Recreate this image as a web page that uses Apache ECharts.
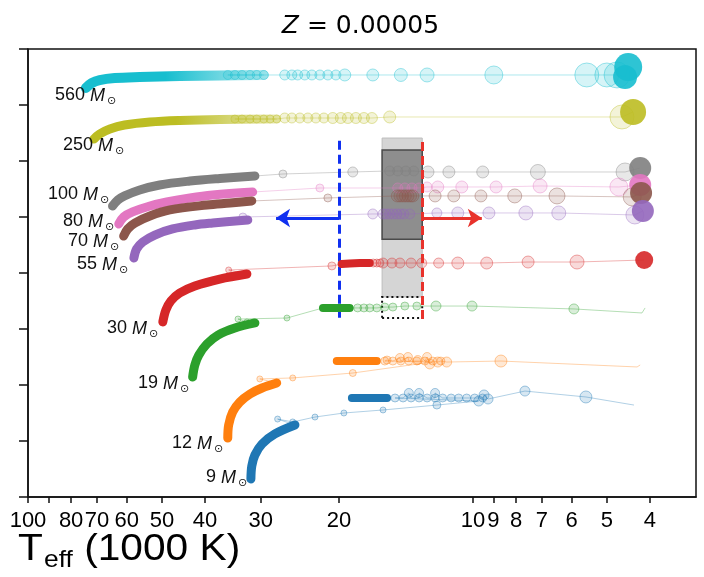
<!DOCTYPE html>
<html><head><meta charset="utf-8">
<script src="https://cdn.jsdelivr.net/npm/echarts@6/dist/echarts.min.js"></script>
<style>html,body{margin:0;padding:0;background:#fff}#c{width:704px;height:577px}</style>
</head><body><div id="c"></div>
<script>
// x = log10(Teff / K), y = log10(L / Lsun)
const masses = ['560','250','100','80','70','55','30','19','12','9'];
const colors = ['#17becf','#bcbd22','#7f7f7f','#e377c2','#8c564b','#9467bd','#d62728','#2ca02c','#ff7f0e','#1f77b4'];
const tickTeff  = [100,90,80,70,60,50,40,30,20,10,9,8,7,6,5,4];
const labelTeff = [100,80,70,60,50,40,30,20,10,9,8,7,6,5,4];

// main-sequence tracks [logTeff, logL]
const ms560 = [[4.870,7.152],[4.857,7.196],[4.839,7.223],[4.805,7.241],[4.749,7.250],[4.659,7.259],[4.569,7.263],[4.470,7.268]];
const ms250 = [[4.852,6.696],[4.839,6.741],[4.816,6.786],[4.783,6.821],[4.726,6.848],[4.659,6.862],[4.569,6.871],[4.441,6.875]];
const ms100 = [[4.810,6.098],[4.798,6.152],[4.783,6.188],[4.749,6.241],[4.704,6.286],[4.636,6.321],[4.569,6.344],[4.490,6.366]];
const ms80  = [[4.796,5.938],[4.785,6.000],[4.765,6.045],[4.726,6.098],[4.688,6.134],[4.636,6.170],[4.585,6.196],[4.495,6.223]];
const ms70  = [[4.785,5.830],[4.776,5.893],[4.760,5.946],[4.726,6.009],[4.681,6.063],[4.598,6.107],[4.546,6.125],[4.497,6.143]];
const ms55  = [[4.762,5.634],[4.756,5.714],[4.742,5.777],[4.715,5.839],[4.675,5.893],[4.625,5.929],[4.585,5.946],[4.506,5.973]];
const ms30  = [[4.697,5.063],[4.690,5.170],[4.679,5.250],[4.659,5.321],[4.625,5.384],[4.569,5.446],[4.508,5.491]];
const ms19  = [[4.630,4.571],[4.625,4.679],[4.616,4.768],[4.598,4.866],[4.573,4.946],[4.535,5.009],[4.490,5.054]];
const ms12  = [[4.551,4.027],[4.549,4.143],[4.540,4.259],[4.524,4.348],[4.501,4.420],[4.474,4.473],[4.441,4.518]];
const ms9   = [[4.499,3.661],[4.497,3.777],[4.490,3.875],[4.474,3.973],[4.445,4.063],[4.400,4.143]];

// dense core-He-burning bands [logTeff, logL]
const band30 = [[4.295,5.580],[4.277,5.585],[4.254,5.589],[4.232,5.589]];
const band19 = [[4.337,5.188],[4.310,5.188],[4.277,5.188]];
const band12 = [[4.306,4.714],[4.280,4.714],[4.250,4.714],[4.216,4.714]];
const band9  = [[4.272,4.384],[4.240,4.384],[4.210,4.384],[4.193,4.384]];

// post-MS models [logTeff, logL, r]  (r = 0: track point only)
const pts560 = [[4.551,7.268,4.5],[4.535,7.268,4.5],[4.519,7.268,4.5],[4.501,7.268,4.5],[4.486,7.268,4.5],[4.470,7.268,4.5],[4.423,7.268,5],[4.407,7.268,5],[4.394,7.268,5],[4.378,7.268,5],[4.362,7.268,5],[4.344,7.268,5],[4.326,7.268,5],[4.308,7.268,5],[4.288,7.268,6],[4.225,7.268,6],[4.162,7.268,6.5],[4.103,7.268,7],[3.953,7.268,9],[3.744,7.268,12],[3.699,7.268,12],[3.676,7.268,13]];
const pts250 = [[4.535,6.875,4],[4.519,6.875,4],[4.501,6.875,4],[4.486,6.875,4],[4.470,6.875,4],[4.456,6.875,4],[4.441,6.875,4],[4.423,6.884,5],[4.407,6.884,5],[4.389,6.884,5],[4.371,6.884,5],[4.353,6.884,5],[4.335,6.884,5],[4.315,6.884,5.5],[4.297,6.884,5.5],[4.281,6.884,5.5],[4.263,6.884,5.5],[4.245,6.884,5.5],[4.227,6.884,5.5],[4.187,6.893,6],[3.665,6.893,12]];
const pts100 = [[4.427,6.384,4],[4.270,6.402,5],[4.187,6.411,5],[4.169,6.411,5],[4.151,6.411,5],[4.133,6.411,5],[4.101,6.402,6],[4.054,6.402,6],[3.978,6.402,6],[3.854,6.402,7.5],[3.658,6.402,9]];
const pts80  = [[4.344,6.259,4],[4.169,6.259,5],[4.153,6.259,5],[4.137,6.259,5],[4.121,6.259,5],[4.103,6.268,5],[4.079,6.268,6],[4.025,6.268,6],[3.948,6.268,6],[3.849,6.277,7],[3.672,6.268,9]];
const pts70  = [[4.326,6.170,4],[4.170,6.188,6],[4.164,6.188,6],[4.158,6.188,6],[4.152,6.188,6],[4.146,6.188,6],[4.140,6.188,6],[4.135,6.188,6],[4.085,6.188,6],[4.043,6.188,6],[3.982,6.188,6],[3.906,6.188,7],[3.811,6.188,8],[3.642,6.179,9]];
const pts55  = [[4.517,6.000,4],[4.225,6.027,5],[4.202,6.027,5],[4.195,6.027,5],[4.187,6.027,5],[4.179,6.027,5],[4.171,6.027,5],[4.163,6.027,5],[4.155,6.027,5],[4.142,6.027,5],[4.081,6.036,5],[4.034,6.036,6],[3.964,6.036,6],[3.881,6.036,7],[3.807,6.036,7],[3.636,6.018,9]];
const pts30  = [[4.549,5.527,3],[4.317,5.563,4],[4.295,5.580,0],[4.224,5.589,4],[4.216,5.589,4],[4.209,5.589,4],[4.202,5.589,5],[4.182,5.589,5],[4.164,5.589,5],[4.139,5.589,5],[4.115,5.589,5],[4.077,5.589,5],[4.034,5.589,6],[3.969,5.589,6],[3.876,5.598,6],[3.766,5.598,7]];
const pts19  = [[4.508,5.063,3],[4.528,5.089,3],[4.418,5.098,3],[4.337,5.188,0],[4.259,5.188,4],[4.245,5.188,4],[4.232,5.188,4],[4.216,5.188,4],[4.198,5.196,4],[4.180,5.196,4],[4.153,5.205,4],[4.126,5.205,4],[4.083,5.205,5],[4.002,5.205,5],[3.773,5.179,5],[3.620,5.143,0],[3.613,5.188,0]];
const pts12  = [[4.479,4.554,3],[4.405,4.563,3],[4.270,4.607,3.5],[4.092,4.705,0],[4.198,4.714,4],[4.193,4.723,4],[4.180,4.714,4],[4.164,4.741,4.5],[4.162,4.714,4],[4.146,4.750,4.5],[4.144,4.714,4],[4.126,4.714,4],[4.124,4.723,4.5],[4.108,4.714,4],[4.103,4.750,4.5],[4.097,4.688,5],[4.090,4.714,4],[4.079,4.705,5],[4.072,4.714,4],[4.059,4.705,5],[3.937,4.714,6],[3.631,4.661,0],[3.624,4.679,0]];
const pts9   = [[4.439,4.196,3],[4.405,4.170,3],[4.355,4.214,3],[4.290,4.250,3],[4.202,4.277,3],[4.081,4.321,4],[3.987,4.357,5],[4.175,4.384,4],[4.157,4.384,4],[4.144,4.429,4.5],[4.139,4.384,4],[4.121,4.384,4],[4.121,4.429,4.5],[4.103,4.384,4],[4.085,4.384,4],[4.085,4.429,4.5],[4.068,4.384,4],[4.049,4.384,4],[4.032,4.384,4],[4.014,4.384,4],[3.996,4.384,4],[3.978,4.384,4],[3.975,4.411,5],[3.966,4.375,5],[3.883,4.446,5],[3.746,4.393,6],[3.638,4.321,0]];

// final (red supergiant) models [logTeff, logL, r]
const end560 = [[3.658,7.250,12],[3.651,7.339,14]];
const end250 = [[3.640,6.938,13]];
const end100 = [[3.624,6.438,11]];
const end80  = [[3.624,6.286,11]];
const end70  = [[3.622,6.214,11]];
const end55  = [[3.618,6.054,11]];
const end30  = [[3.615,5.616,9]];

// annotation values (Teff in 1000 K, logL)
const tHot = 20, tCool = 13, tBox = 16;
const arrowHotTo = 27.7, arrowCoolTo = 9.55, arrowL = 5.991;
const cutLineL = [5.10, 6.70];
const boxLight = [5.286, 6.705], boxDark = [5.801, 6.598], boxDotted = [5.098, 5.286];

const msList   = [ms560,ms250,ms100,ms80,ms70,ms55,ms30,ms19,ms12,ms9];
const bandList = [null,null,null,null,null,null,band30,band19,band12,band9];
const ptsList  = [pts560,pts250,pts100,pts80,pts70,pts55,pts30,pts19,pts12,pts9];
const endList  = [end560,end250,end100,end80,end70,end55,end30,[],[],[]];

const lg = t => 3 + Math.log10(t);
const rgba = (hex, a) => { const n = parseInt(hex.slice(1),16); return `rgba(${n>>16},${(n>>8)&255},${n&255},${a})`; };

const series = [];
// annotation boxes (under points)
series.push({type:'scatter', data:[], z:2, silent:true, markArea:{silent:true, data:[
  [{coord:[lg(tBox),boxLight[0]], itemStyle:{color:'#d5d5d5', borderColor:'#bdbdbd', borderWidth:1}},{coord:[lg(tCool),boxLight[1]]}],
  [{coord:[lg(tBox),boxDark[0]], itemStyle:{color:'#8e8e8e', borderColor:'#4a4a4a', borderWidth:1.5}},{coord:[lg(tCool),boxDark[1]]}]
]}});

masses.forEach((m,i)=>{
  const c = colors[i], ms = msList[i], pts = ptsList[i], ends = endList[i];
  const path = [ms[ms.length-1]].concat(pts.map(p=>[p[0],p[1]])).concat(ends.map(p=>[p[0],p[1]]));
  series.push({type:'line', data:path, showSymbol:false, silent:true, z:1,
    lineStyle:{color:c, width:1, opacity:0.35}});
  series.push({type:'scatter', data:pts.filter(p=>p[2]>0), silent:true, z:4,
    symbolSize:v=>v[2]*2,
    itemStyle:{color:rgba(c,0.22), borderColor:rgba(c,0.5), borderWidth:1}});
  const grad = (i<2) ? new echarts.graphic.LinearGradient(0,0,1,0,[
      {offset:0,color:c},{offset:0.45,color:c},{offset:1,color:rgba(c,0.3)}]) : c;
  series.push({type:'line', data:ms, smooth:0.35, showSymbol:false, silent:true, z:5,
    lineStyle:{color:grad, width:(i===0?10:9), cap:'round', join:'round'}});
  if (bandList[i]) series.push({type:'line', data:bandList[i], showSymbol:false, silent:true, z:5,
    lineStyle:{color:c, width:8, cap:'round'}});
  if (ends.length) series.push({type:'scatter', data:ends, silent:true, z:6,
    symbolSize:v=>v[2]*2, itemStyle:{color:c, opacity:0.9}});
});

// dashed cuts, arrows, dotted box (on top)
series.push({type:'scatter', data:[], z:10, silent:true,
  markArea:{silent:true, data:[[{coord:[lg(tBox),boxDotted[0]]},{coord:[lg(tCool),boxDotted[1]]}]],
    itemStyle:{color:'rgba(0,0,0,0)', borderColor:'#111', borderWidth:2, borderType:[2,3]}},
  markLine:{silent:true, animation:false, label:{show:false}, symbol:['none','none'], data:[
    [{coord:[lg(tHot),cutLineL[0]], lineStyle:{color:'#1030f0', width:3, type:[9,5]}},{coord:[lg(tHot),cutLineL[1]]}],
    [{coord:[lg(tCool),cutLineL[0]-0.01], lineStyle:{color:'#e8322b', width:3, type:[9,5]}},{coord:[lg(tCool),cutLineL[1]+0.01]}],
    [{coord:[lg(tHot),arrowL], symbol:'none', lineStyle:{color:'#1030f0', width:3, type:'solid'}},{coord:[lg(arrowHotTo),arrowL], symbol:'arrow', symbolSize:[14,14]}],
    [{coord:[lg(tCool),arrowL], symbol:'none', lineStyle:{color:'#e8322b', width:3, type:'solid'}},{coord:[lg(arrowCoolTo),arrowL], symbol:'arrow', symbolSize:[14,14]}]
  ]}});

// text layout
const labelLayout = [[55,89],[63,139],[48,188],[63,215],[68,235],[77,258],[107,322],[138,377],[172,437],[206,471]];
const graphic = [];
masses.forEach((m,i)=>{
  graphic.push({type:'text', x:labelLayout[i][0], y:labelLayout[i][1]-2.5, silent:true, z:20,
    style:{text:`{n|${m} }{m|M}{s|\u2299}`, align:'left', verticalAlign:'top', fill:'#111',
      rich:{n:{fontSize:18, fontFamily:'Liberation Sans', lineHeight:20, verticalAlign:'top', fill:'#111'},
            m:{fontSize:18, fontFamily:'Liberation Sans', fontStyle:'italic', lineHeight:20, verticalAlign:'top', fill:'#111'},
            s:{fontSize:11, fontFamily:'DejaVu Sans', lineHeight:14, padding:[9,0,0,2], verticalAlign:'top', fill:'#111'}}}});
});
graphic.push({type:'text', x:360.5, y:26, silent:true,
  style:{text:'{i|Z}{n| = 0.00005}', align:'center', verticalAlign:'middle', fill:'#000',
    rich:{i:{fontSize:25, fontFamily:'DejaVu Sans', fontStyle:'italic', fill:'#000'},
          n:{fontSize:25, fontFamily:'DejaVu Sans', fill:'#000'}}}});
graphic.push({type:'text', x:18, y:531, scaleX:1.1, silent:true,
  style:{text:'{t|T}{s|eff}{t| (1000 K)}', align:'left', verticalAlign:'top', fill:'#000',
    rich:{t:{fontSize:37, fontFamily:'Liberation Sans', lineHeight:42, verticalAlign:'top', fill:'#000'},
          s:{fontSize:24, fontFamily:'Liberation Sans', lineHeight:26, padding:[17,0,0,1], verticalAlign:'top', fill:'#000'}}}});

const chart = echarts.init(document.getElementById('c'), null, {renderer:'canvas'});
chart.setOption({
  animation:false,
  backgroundColor:'#fff',
  grid:{left:28, right:8, top:49, bottom:80, show:true, borderColor:'#111', borderWidth:1.5, backgroundColor:'rgba(0,0,0,0)'},
  xAxis:{type:'value', min:lg(3.152), max:5, inverse:true, splitLine:{show:false},
    axisLine:{show:true, lineStyle:{color:'#111', width:1.5}},
    axisTick:{show:true, length:6, customValues:tickTeff.map(lg), lineStyle:{color:'#111', width:1.5}},
    axisLabel:{customValues:labelTeff.map(lg), formatter:v=>String(Math.round(Math.pow(10,v-3))),
      fontSize:22, fontFamily:'Liberation Sans', color:'#000', margin:13}},
  yAxis:{type:'value', min:3.5, max:7.5, interval:0.5, splitLine:{show:false},
    axisLine:{show:true, lineStyle:{color:'#111', width:1.5}},
    axisTick:{show:true, length:9, lineStyle:{color:'#111', width:1.5}},
    axisLabel:{show:false}},
  series: series,
  graphic: graphic
});
</script></body></html>
